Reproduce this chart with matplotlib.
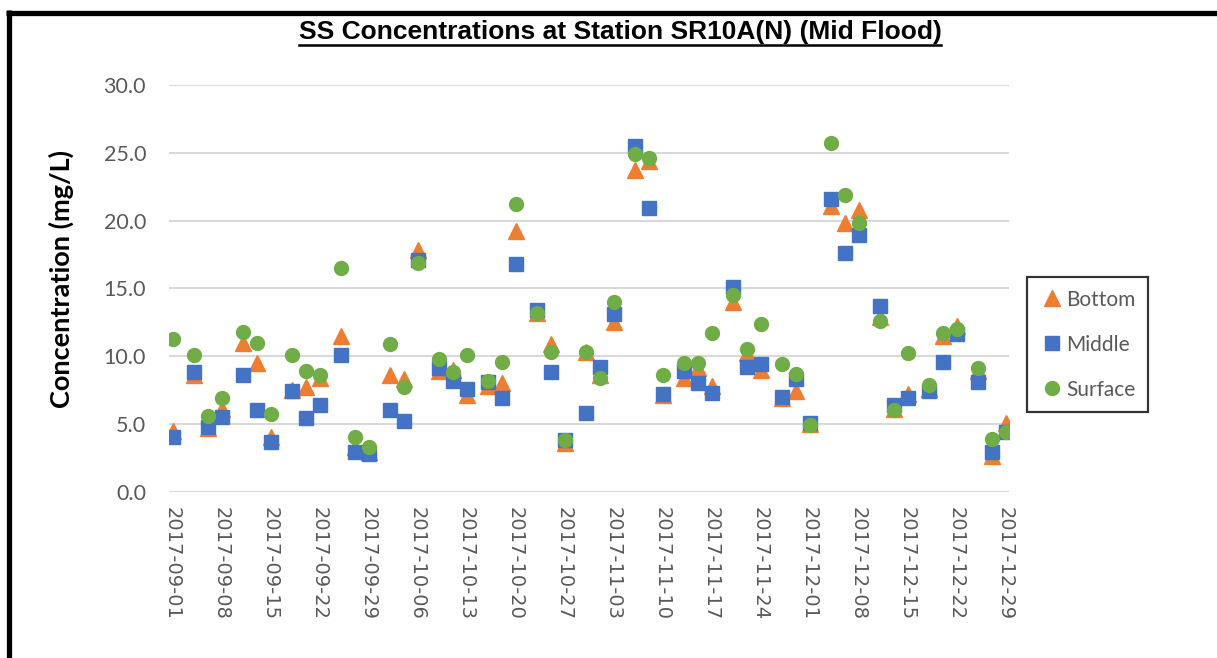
import matplotlib
matplotlib.use("Agg")
import matplotlib.pyplot as plt
import matplotlib.dates as mdates
from matplotlib.lines import Line2D
import pandas as pd

# sampling days (Mon / Wed / Fri)
dates = [
    "2017-09-01", "2017-09-04", "2017-09-06", "2017-09-08", "2017-09-11", "2017-09-13",
    "2017-09-15", "2017-09-18", "2017-09-20", "2017-09-22", "2017-09-25", "2017-09-27",
    "2017-09-29", "2017-10-02", "2017-10-04", "2017-10-06", "2017-10-09", "2017-10-11",
    "2017-10-13", "2017-10-16", "2017-10-18", "2017-10-20", "2017-10-23", "2017-10-25",
    "2017-10-27", "2017-10-30", "2017-11-01", "2017-11-03", "2017-11-06", "2017-11-08",
    "2017-11-10", "2017-11-13", "2017-11-15", "2017-11-17", "2017-11-20", "2017-11-22",
    "2017-11-24", "2017-11-27", "2017-11-29", "2017-12-01", "2017-12-04", "2017-12-06",
    "2017-12-08", "2017-12-11", "2017-12-13", "2017-12-15", "2017-12-18", "2017-12-20",
    "2017-12-22", "2017-12-25", "2017-12-27", "2017-12-29",
]

bottom = [
    4.5, 8.6, 4.7, 6.1, 11.0, 9.5, 4.0, 7.5, 7.7, 8.4, 11.5, 3.3, 2.9,
    8.6, 8.3, 17.8, 8.9, 9.0, 7.1, 7.8, 8.0, 19.2, 13.2, 10.9, 3.6, 10.3,
    8.6, 12.5, 23.7, 24.4, 7.1, 8.4, 9.1, 7.8, 14.0, 10.2, 9.0, 6.9, 7.4,
    5.0, 21.1, 19.8, 20.8, 12.9, 6.1, 7.2, 7.6, 11.5, 12.2, 8.9, 2.6, 5.1,
]
middle = [
    4.0, 8.8, 4.8, 5.5, 8.6, 6.0, 3.7, 7.4, 5.4, 6.4, 10.1, 2.9, 2.8,
    6.0, 5.2, 17.1, 9.1, 8.2, 7.6, 8.1, 6.9, 16.8, 13.4, 8.8, 3.8, 5.8,
    9.2, 13.1, 25.5, 20.9, 7.2, 8.9, 8.0, 7.3, 15.1, 9.2, 9.4, 7.0, 8.3,
    5.1, 21.6, 17.6, 18.9, 13.7, 6.4, 6.9, 7.4, 9.6, 11.6, 8.1, 2.9, 4.4,
]
surface = [
    11.3, 10.1, 5.6, 6.9, 11.8, 11.0, 5.7, 10.1, 8.9, 8.6, 16.5, 4.0, 3.3,
    10.9, 7.7, 16.9, 9.8, 8.8, 10.1, 8.2, 9.6, 21.2, 13.2, 10.3, 3.8, 10.3,
    8.4, 14.0, 24.9, 24.6, 8.6, 9.5, 9.5, 11.7, 14.5, 10.5, 12.4, 9.4, 8.7,
    4.9, 25.7, 21.9, 19.8, 12.6, 6.0, 10.2, 7.9, 11.7, 12.0, 9.1, 3.9, 4.4,
]

series_names = ["Bottom", "Middle", "Surface"]
y_ticks = [0, 5, 10, 15, 20, 25, 30]

x = pd.to_datetime(dates)

fig = plt.figure(figsize=(12.17, 6.58), dpi=100)
ax = fig.add_axes([169 / 1217, 1 - 491.7 / 658, 840 / 1217, 406.7 / 658])

ax.plot(x, bottom, ls="none", marker="^", ms=11, color="#ED7D31", label=series_names[0], zorder=3)
ax.plot(x, middle, ls="none", marker="s", ms=10, color="#4472C4", label=series_names[1], zorder=4)
ax.plot(x, surface, ls="none", marker="o", ms=10, color="#70AD47", label=series_names[2], zorder=5)

# date axis with half-day padding so points sit in the middle of each day slot
half = pd.Timedelta(hours=12)
ax.set_xlim(x[0] - half, x[-1] + half)
ax.set_xticks(pd.date_range(dates[0], dates[-1], freq="7D"))
ax.xaxis.set_major_formatter(mdates.DateFormatter("%Y-%m-%d"))
ax.tick_params(axis="x", length=0, pad=11, labelrotation=-90, labelsize=14,
               labelcolor="#595959")
for lbl in ax.get_xticklabels():
    lbl.set_family("DejaVu Sans")
    lbl.set_va("top")
    lbl.set_ha("center")

ax.set_ylim(0, 30)
ax.set_yticks(y_ticks)
ax.set_yticklabels([f"{v:.1f}" for v in y_ticks], family="Lato", fontsize=15.5, color="#595959")
ax.tick_params(axis="y", length=0, pad=16.5)
ax.grid(axis="y", color="#d9d9d9", lw=1.5)
ax.set_axisbelow(True)
for sp in ax.spines.values():
    sp.set_visible(False)

fig.text(61 / 1217, 1 - 279 / 658, "Concentration (mg/L)", rotation=90, ha="center",
         va="center", family="Lato", fontweight="bold", fontsize=19.5)

title = fig.text(620 / 1217, 1 - 32 / 658, "SS Concentrations at Station SR10A(N) (Mid Flood)",
                 ha="center", va="center", family="Liberation Sans", fontweight="bold",
                 fontsize=19)

leg = fig.legend(loc="upper left", bbox_to_anchor=(1027 / 1217, 1 - 277 / 658),
                 frameon=True, fancybox=False, borderaxespad=0, handletextpad=0.1,
                 handlelength=1.2, labelspacing=1.2, borderpad=0.6,
                 prop={"family": "Lato", "size": 15})
leg.get_frame().set_edgecolor("black")
leg.get_frame().set_linewidth(1.6)
for t in leg.get_texts():
    t.set_color("#595959")

# underline the title
fig.canvas.draw()
bb = title.get_window_extent()
uy = bb.y0 - 1
fig.add_artist(Line2D([bb.x0 / 1217, bb.x1 / 1217], [uy / 658, uy / 658],
                      color="black", lw=1.8, transform=fig.transFigure))

# heavy frame on the top and left edges
fig.add_artist(Line2D([6 / 1217, 1], [1 - 12.5 / 658, 1 - 12.5 / 658], color="black",
                      lw=3.8, transform=fig.transFigure, solid_capstyle="butt"))
fig.add_artist(Line2D([8.5 / 1217, 8.5 / 1217], [0, 1 - 10 / 658], color="black",
                      lw=3.8, transform=fig.transFigure, solid_capstyle="butt"))

fig.savefig("out.png", dpi=100)
